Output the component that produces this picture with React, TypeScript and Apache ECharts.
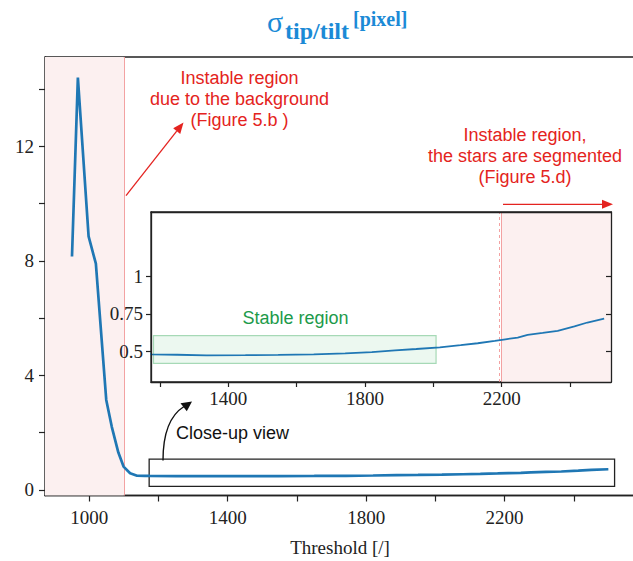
import React, { useEffect, useRef } from "react";
import * as echarts from "echarts";

// ---- data ----
const thresholds = [950, 967, 998, 1019, 1049, 1065, 1084, 1099, 1118, 1138, 1160, 1175, 1250, 1336, 1450, 1546, 1650, 1742, 1820, 1888, 1950, 2019, 2080, 2130, 2180, 2211, 2247, 2276, 2320, 2364, 2413, 2451, 2500];
const sigma = [8.15, 14.4, 8.85, 7.9, 3.14, 2.2, 1.3, 0.81, 0.58, 0.49, 0.485, 0.483, 0.48, 0.476, 0.477, 0.479, 0.483, 0.489, 0.498, 0.509, 0.518, 0.529, 0.543, 0.556, 0.571, 0.582, 0.593, 0.611, 0.624, 0.638, 0.667, 0.693, 0.718];

const mainXLabels = [1000, 1400, 1800, 2200];
const mainXTicks = [1000, 1200, 1400, 1600, 1800, 2000, 2200, 2400];
const mainYLabels = [0, 4, 8, 12];
const mainYTicks = [0, 2, 4, 6, 8, 10, 12, 14];
const insetXLabels = [1400, 1800, 2200];
const insetXTicks = [1200, 1400, 1600, 1800, 2000, 2200, 2400];
const insetYLabels = [0.5, 0.75, 1];

const unstableLow = [872, 1100];
const unstableHigh = [2200, 2520];
const unstableHighDash = 2193;
const stableRegion = [[1181, 0.423], [2008, 0.606]];
const closeUpBox = [[1173, 0.12], [2518, 1.07]];

const RED = "#e42320";
const PINK_FILL = "#fcf0f0";
const PINK_LINE = "#f3a2a2";
const BLUE = "#1f77b4";
const TITLE_BLUE = "#1b8ad6";
const AX = "#222222";
const SERIF = "'Liberation Serif', 'DejaVu Serif', serif";
const SANS = "'Liberation Sans', Arial, sans-serif";

function arrow(x1: number, y1: number, x2: number, y2: number, color: string, head = 11, hw = 4.5) {
  const dx = x2 - x1, dy = y2 - y1;
  const len = Math.sqrt(dx * dx + dy * dy);
  const ux = dx / len, uy = dy / len;
  const bx = x2 - ux * head, by = y2 - uy * head;
  return [
    { type: "line", shape: { x1, y1, x2: bx, y2: by }, style: { stroke: color, lineWidth: 1.3 }, z: 50 },
    {
      type: "polygon",
      shape: { points: [[x2, y2], [bx - uy * hw, by + ux * hw], [bx + uy * hw, by - ux * hw]] },
      style: { fill: color },
      z: 50,
    },
  ];
}

function txt(text: string, x: number, y: number, color: string, size: number, font: string, align = "center", weight = "normal") {
  return {
    type: "text",
    x,
    y,
    z: 60,
    style: { text, fill: color, font: `${weight} ${size}px ${font}`, textAlign: align, textVerticalAlign: "middle" },
  };
}

export default function App() {
  const ref = useRef<HTMLDivElement>(null);
  useEffect(() => {
    if (!ref.current) return;
    const chart = echarts.init(ref.current, undefined, { renderer: "svg" });
    const data = thresholds.map((t, i) => [t, sigma[i]]);
    const axisLabelBase = { color: AX, fontFamily: SERIF, fontSize: 19 };
    const spine = { show: true, onZero: false, lineStyle: { color: AX, width: 1.3 } };

    const graphics: any[] = [
      // title
      txt("σ", 267, 21, TITLE_BLUE, 30, SERIF, "left"),
      txt("tip/tilt", 285, 30.5, TITLE_BLUE, 24, SERIF, "left", "bold"),
      txt("[pixel]", 353, 19, TITLE_BLUE, 20, SERIF, "left", "bold"),
      // annotation 1
      txt("Instable region", 239.5, 78.4, RED, 18, SANS),
      txt("due to the background", 239.5, 99.4, RED, 18, SANS),
      txt("(Figure 5.b )", 239.5, 120.2, RED, 18, SANS),
      ...arrow(126, 195.7, 183.5, 122.5, RED),
      // annotation 2
      txt("Instable region,", 525, 134.8, RED, 18, SANS),
      txt("the stars are segmented", 525, 155.8, RED, 18, SANS),
      txt("(Figure 5.d)", 525, 176.6, RED, 18, SANS),
      ...arrow(503, 204.3, 613, 204.3, RED),
      // close-up
      txt("Close-up view", 176, 433.3, "#111", 18, SANS, "left"),
      txt("Stable region", 295.5, 317.8, "#1c9a4a", 18, SANS),
      {
        type: "bezierCurve",
        shape: { x1: 163, y1: 460.5, cpx1: 163, cpy1: 430, cpx2: 172, cpy2: 414, x2: 184, y2: 406.5 },
        style: { stroke: "#111", lineWidth: 1.4, fill: "none" },
        z: 50,
      },
      {
        type: "polygon",
        shape: { points: [[192, 401.5], [180.5, 403.2], [186.8, 411.3]] },
        style: { fill: "#111" },
        z: 50,
      },
    ];

    const option: any = {
      animation: false,
      backgroundColor: "#ffffff",
      grid: [
        {
          left: 45, top: 57, width: 590, height: 438.5,
          show: true, borderColor: AX, borderWidth: 1.3, backgroundColor: "transparent",
          outerBoundsMode: "none", containLabel: false,
        },
        {
          left: 151, top: 212, width: 460, height: 170,
          show: true, borderColor: AX, borderWidth: 1.3, backgroundColor: "#ffffff",
          outerBoundsMode: "none", containLabel: false, z: 10,
        },
      ],
      xAxis: [
        {
          type: "value", gridIndex: 0, min: unstableLow[0], max: 2577,
          splitLine: { show: false },
          axisLine: spine,
          axisTick: { show: true, length: 6, inside: false, customValues: mainXTicks, lineStyle: { color: AX, width: 1.2 } },
          axisLabel: { ...axisLabelBase, margin: 12, customValues: mainXLabels, formatter: (v: number) => String(v) },
          name: "Threshold [/]", nameLocation: "middle", nameGap: 42,
          nameTextStyle: { color: AX, fontFamily: SERIF, fontSize: 19 },
        },
        {
          type: "value", gridIndex: 1, min: 1173.7, max: unstableHigh[1], z: 30,
          splitLine: { show: false },
          axisLine: spine,
          axisTick: { show: true, length: 5, inside: false, customValues: insetXTicks, lineStyle: { color: AX, width: 1.2 } },
          axisLabel: { ...axisLabelBase, margin: 7, customValues: insetXLabels, formatter: (v: number) => String(v) },
        },
        {
          type: "value", gridIndex: 1, min: 1173.7, max: unstableHigh[1], z: 30, position: "top",
          splitLine: { show: false },
          axisLine: spine,
          axisTick: { show: false },
          axisLabel: { show: false },
        },
      ],
      yAxis: [
        {
          type: "value", gridIndex: 0, min: -0.2, max: 15.12,
          splitLine: { show: false },
          axisLine: spine,
          axisTick: { show: true, length: 6, inside: false, customValues: mainYTicks, lineStyle: { color: AX, width: 1.2 } },
          axisLabel: { ...axisLabelBase, margin: 11, customValues: mainYLabels, formatter: (v: number) => String(v) },
        },
        {
          type: "value", gridIndex: 1, min: 0.3, max: 1.423, z: 30,
          splitLine: { show: false },
          axisLine: spine,
          axisTick: { show: true, length: 5, inside: false, customValues: insetYLabels, lineStyle: { color: AX, width: 1.2 } },
          axisLabel: { ...axisLabelBase, margin: 8, customValues: insetYLabels, formatter: (v: number) => String(v) },
        },
        {
          type: "value", gridIndex: 1, min: 0.3, max: 1.423, position: "right", z: 30,
          splitLine: { show: false },
          axisLine: spine,
          axisTick: { show: true, length: 5, inside: true, customValues: insetYLabels, lineStyle: { color: AX, width: 1.2 } },
          axisLabel: { show: false },
        },
      ],
      series: [
        {
          type: "line", xAxisIndex: 0, yAxisIndex: 0, data, showSymbol: false, symbol: "none",
          lineStyle: { color: BLUE, width: 2.7 }, z: 5,
          markArea: {
            silent: true, z: 1,
            data: [
              [{ xAxis: unstableLow[0], itemStyle: { color: PINK_FILL } }, { xAxis: unstableLow[1] }],
              [
                { coord: closeUpBox[0], itemStyle: { color: "rgba(0,0,0,0)", borderColor: AX, borderWidth: 1.3 } },
                { coord: closeUpBox[1] },
              ],
            ],
          },
          markLine: {
            silent: true, symbol: "none", label: { show: false }, z: 2,
            lineStyle: { color: PINK_LINE, type: "solid", width: 1 },
            data: [{ xAxis: unstableLow[1] }],
          },
        },
        {
          type: "line", xAxisIndex: 1, yAxisIndex: 1, data, showSymbol: false, symbol: "none",
          lineStyle: { color: BLUE, width: 1.8 }, z: 15,
          markArea: {
            silent: true, z: 11,
            data: [
              [{ xAxis: unstableHigh[0], itemStyle: { color: PINK_FILL } }, { xAxis: unstableHigh[1] }],
              [
                { coord: stableRegion[0], itemStyle: { color: "rgba(200,235,212,0.35)", borderColor: "#a6d9b6", borderWidth: 1.2 } },
                { coord: stableRegion[1] },
              ],
            ],
          },
          markLine: {
            silent: true, symbol: "none", label: { show: false }, z: 12,
            lineStyle: { color: PINK_LINE, type: "solid", width: 1 },
            data: [
              { xAxis: unstableHighDash, lineStyle: { type: [3, 3], color: PINK_LINE, width: 1 } },
              { xAxis: unstableHigh[0] },
            ],
          },
        },
      ],
      graphic: graphics,
    };
    chart.setOption(option);
    return () => chart.dispose();
  }, []);
  return <div ref={ref} style={{ position: "absolute", left: 0, top: 0, width: 633, height: 561 }} />;
}
